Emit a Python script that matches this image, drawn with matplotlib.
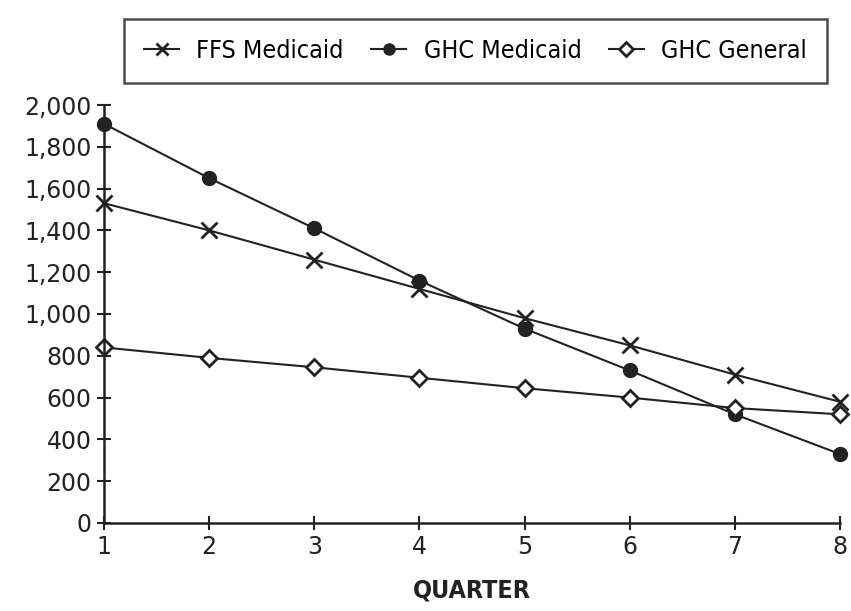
import matplotlib

matplotlib.use("Agg")

import matplotlib.pyplot as plt  # noqa: E402

# Données
quarters = [1, 2, 3, 4, 5, 6, 7, 8]
ffs_medicaid = [1530, 1400, 1260, 1120, 980, 850, 710, 580]
ghc_medicaid = [1910, 1650, 1410, 1160, 930, 730, 520, 330]
ghc_general = [840, 790, 745, 695, 645, 600, 550, 520]
y_ticks = [0, 200, 400, 600, 800, 1000, 1200, 1400, 1600, 1800, 2000]
y_labels = [f"{v:,}" for v in y_ticks]

INK = "#222222"

fig = plt.figure(figsize=(8.51, 6.11), dpi=100)
ax = fig.add_axes([104 / 851, 1 - 523 / 611, (840 - 104) / 851, (523 - 105) / 611])

ax.plot(quarters, ffs_medicaid, color=INK, lw=1.5, marker="x", ms=11, mew=2,
        label="FFS Medicaid", clip_on=False)
ax.plot(quarters, ghc_medicaid, color=INK, lw=1.5, marker="o", ms=10,
        mfc=INK, mec=INK, label="GHC Medicaid", clip_on=False)
ax.plot(quarters, ghc_general, color=INK, lw=1.5, marker="D", ms=8.5, mew=2,
        mfc="white", mec=INK, label="GHC General", clip_on=False)

ax.set_xlim(1, 8)
ax.set_ylim(0, 2000)
ax.set_xticks(quarters)
ax.set_yticks(y_ticks)
ax.set_yticklabels(y_labels)
ax.tick_params(direction="inout", length=10, width=1.5, colors=INK,
               labelsize=17, pad=4)
for s in ("top", "right"):
    ax.spines[s].set_visible(False)
for s in ("left", "bottom"):
    ax.spines[s].set_linewidth(1.8)
    ax.spines[s].set_color(INK)

ax.set_xlabel("QUARTER", fontsize=18, fontweight="bold",
              fontstretch="condensed", color=INK, labelpad=14)

leg = fig.legend(loc="center",
                 bbox_to_anchor=(124 / 851, 1 - 88 / 611, 703 / 851, 75 / 611),
                 mode="expand", borderaxespad=0, ncol=3, frameon=True,
                 fancybox=False, handlelength=1.4, handletextpad=0.7,
                 borderpad=0.8, markerscale=0.8,
                 prop={"size": 18, "stretch": "condensed"})
leg.get_frame().set_edgecolor(INK)
leg.get_frame().set_linewidth(1.8)

fig.savefig("out.png", dpi=100)
plt.close(fig)
